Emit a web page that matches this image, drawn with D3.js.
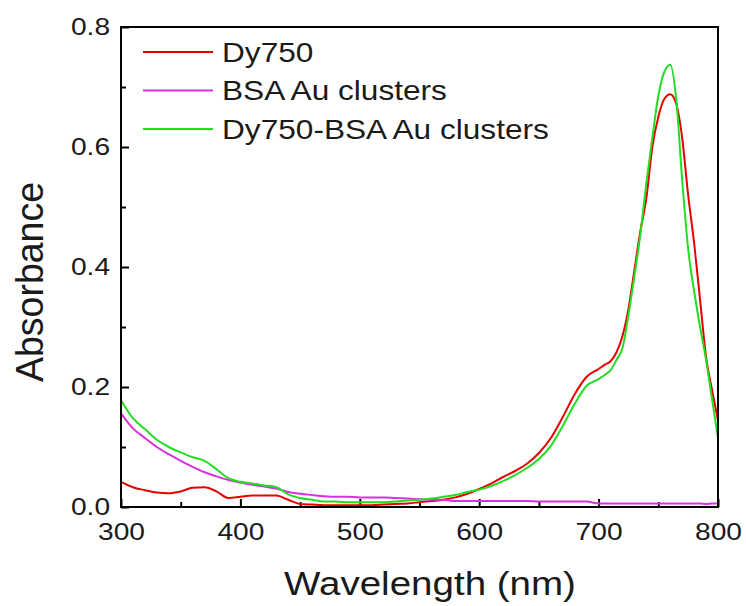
<!DOCTYPE html>
<html>
<head>
<meta charset="utf-8">
<script src="https://cdn.jsdelivr.net/npm/d3@7"></script>
<style>
  body { margin: 0; background: #fff; }
  svg { font-family: "Liberation Sans", Arial, sans-serif; }
</style>
</head>
<body>
<svg width="746" height="606"></svg>
<script>
const wavelength = [300, 310, 320, 330, 340, 350, 360, 370, 380, 390,
    400, 410, 420, 430, 440, 450, 460, 470, 480, 490,
    500, 510, 520, 530, 540, 550, 560, 570, 580, 590,
    600, 610, 620, 630, 640, 650, 660, 670, 680, 690,
    700, 705, 710, 715, 720, 725, 730, 735, 740, 745,
    750, 755, 760, 765, 770, 775, 780, 785, 790, 795, 800];

const dy750 = [0.042, 0.033, 0.028, 0.024, 0.023, 0.026, 0.032, 0.033, 0.026, 0.015,
    0.017, 0.019, 0.019, 0.019, 0.012, 0.005, 0.004, 0.003, 0.003, 0.003,
    0.003, 0.003, 0.004, 0.005, 0.006, 0.008, 0.010, 0.012, 0.016, 0.022,
    0.030, 0.039, 0.050, 0.060, 0.072, 0.090, 0.115, 0.150, 0.188, 0.217,
    0.230, 0.237, 0.243, 0.258, 0.285, 0.330, 0.395, 0.460, 0.515, 0.600,
    0.650, 0.680, 0.688, 0.672, 0.615, 0.520, 0.440, 0.345, 0.250, 0.195, 0.145];

const bsaAu = [0.156, 0.131, 0.115, 0.100, 0.088, 0.077, 0.067, 0.058, 0.051, 0.045,
    0.041, 0.037, 0.034, 0.031, 0.025, 0.022, 0.020, 0.018, 0.017, 0.017,
    0.016, 0.016, 0.016, 0.015, 0.014, 0.013, 0.012, 0.012, 0.010, 0.010,
    0.010, 0.010, 0.010, 0.010, 0.010, 0.009, 0.009, 0.009, 0.009, 0.009,
    0.006, 0.006, 0.006, 0.006, 0.006, 0.006, 0.006, 0.006, 0.006, 0.006,
    0.006, 0.006, 0.006, 0.006, 0.006, 0.006, 0.006, 0.006, 0.005, 0.006, 0.006];

const dy750BsaAu = [0.178, 0.148, 0.130, 0.112, 0.100, 0.091, 0.083, 0.077, 0.063, 0.048,
    0.042, 0.039, 0.036, 0.033, 0.021, 0.015, 0.012, 0.009, 0.009, 0.008,
    0.008, 0.008, 0.008, 0.009, 0.011, 0.012, 0.014, 0.017, 0.020, 0.025,
    0.029, 0.035, 0.043, 0.053, 0.065, 0.080, 0.102, 0.135, 0.172, 0.202,
    0.213, 0.220, 0.228, 0.245, 0.265, 0.320, 0.385, 0.455, 0.540, 0.615,
    0.685, 0.725, 0.737, 0.680, 0.545, 0.430, 0.360, 0.300, 0.245, 0.180, 0.115];

const seriesNames = ["Dy750", "BSA Au clusters", "Dy750-BSA Au clusters"];
const seriesColors = ["#e60000", "#d930e0", "#22dd22"];
const xTicks = [300, 400, 500, 600, 700, 800];
const yTicks = [0.0, 0.2, 0.4, 0.6, 0.8];

const svg = d3.select("svg");
const margin = {left: 121, top: 27, right: 28, bottom: 99};
const width = 746 - margin.left - margin.right;
const height = 606 - margin.top - margin.bottom;
const stretch = 1.15;

const g = svg.append("g").attr("transform", `translate(${margin.left},${margin.top})`);

const x = d3.scaleLinear().domain([300, 800]).range([0, width]);
const y = d3.scaleLinear().domain([0, 0.8]).range([height, 0]);

// minor ticks first
g.append("g")
    .attr("transform", `translate(0,${height})`)
    .call(d3.axisBottom(x).tickValues(d3.range(350, 800, 100)).tickSize(-5).tickFormat(""))
    .call(a => a.select(".domain").remove());
g.append("g")
    .call(d3.axisLeft(y).tickValues([0.1, 0.3, 0.5, 0.7]).tickSize(-5).tickFormat(""))
    .call(a => a.select(".domain").remove());

const xAxis = g.append("g")
    .attr("transform", `translate(0,${height})`)
    .call(d3.axisBottom(x).tickValues(xTicks).tickSize(-8).tickPadding(16).tickFormat(d3.format("d")));
xAxis.select(".domain").remove();
xAxis.selectAll("text")
    .attr("font-size", 24.5)
    .attr("fill", "#1a1a1a")
    .attr("transform", `scale(${stretch},1)`);

const yAxis = g.append("g")
    .call(d3.axisLeft(y).tickValues(yTicks).tickSize(-8).tickPadding(9.5).tickFormat(d3.format(".1f")));
yAxis.select(".domain").remove();
yAxis.selectAll("text")
    .attr("font-size", 24.5)
    .attr("fill", "#1a1a1a")
    .attr("transform", `scale(${stretch},1)`);

g.selectAll(".tick line").attr("stroke", "#000").attr("stroke-width", 2);

const series = [dy750, bsaAu, dy750BsaAu];
const line = d3.line()
    .x((d, i) => x(wavelength[i]))
    .y(d => y(d))
    .curve(d3.curveMonotoneX);

g.selectAll("path.curve")
    .data(series)
    .enter()
    .append("path")
    .attr("class", "curve")
    .attr("fill", "none")
    .attr("stroke", (d, i) => seriesColors[i])
    .attr("stroke-width", 2)
    .attr("d", line);

g.append("rect")
    .attr("width", width)
    .attr("height", height)
    .attr("fill", "none")
    .attr("stroke", "#000")
    .attr("stroke-width", 2);

// legend
const legend = svg.append("g").selectAll("g")
    .data(seriesNames)
    .enter()
    .append("g")
    .attr("transform", (d, i) => `translate(143,${52 + i * 38.5})`);
legend.append("line")
    .attr("x1", 0).attr("x2", 70)
    .attr("stroke", (d, i) => seriesColors[i])
    .attr("stroke-width", 2);
legend.append("text")
    .attr("transform", `translate(79,0) scale(${stretch},1)`)
    .attr("dy", "0.36em")
    .attr("font-size", 27.5)
    .attr("fill", "#1a1a1a")
    .text(d => d);

svg.append("text")
    .attr("transform", `translate(430,595) scale(${stretch},1)`)
    .attr("text-anchor", "middle")
    .attr("font-size", 33.5)
    .attr("fill", "#1a1a1a")
    .text("Wavelength (nm)");

svg.append("text")
    .attr("transform", `translate(43,282) rotate(-90) scale(1,1.05)`)
    .attr("text-anchor", "middle")
    .attr("font-size", 37.5)
    .attr("fill", "#1a1a1a")
    .text("Absorbance");
</script>
</body>
</html>
